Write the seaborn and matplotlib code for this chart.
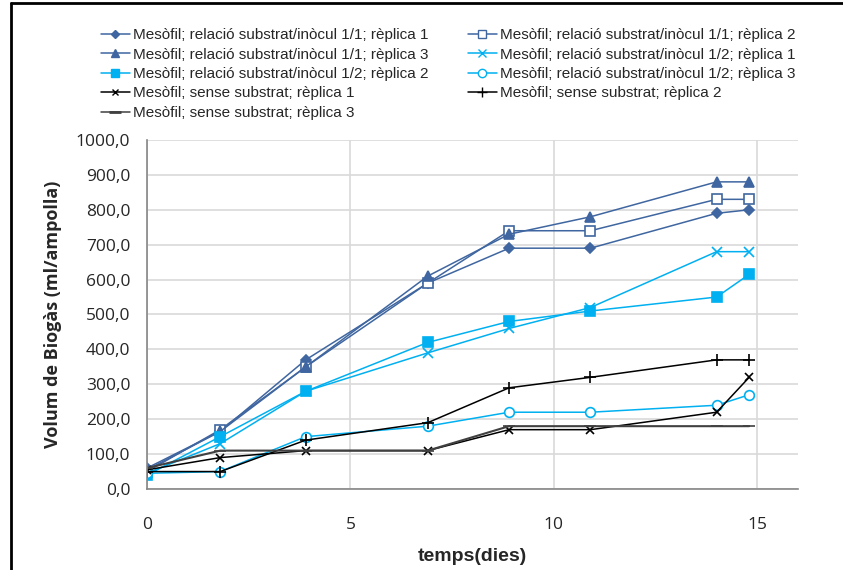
import matplotlib
matplotlib.use('Agg')
import matplotlib.pyplot as plt
import seaborn as sns
from matplotlib.ticker import FuncFormatter, MultipleLocator
from matplotlib.lines import Line2D

# dies de mesura
temps = [0, 1.8, 3.9, 6.9, 8.9, 10.9, 14.0, 14.8]

# volum de biogas (ml/ampolla)
r11_rep1 = [60, 165, 370, 590, 690, 690, 790, 800]
r11_rep2 = [50, 170, 350, 590, 740, 740, 830, 830]
r11_rep3 = [55, 165, 350, 610, 730, 780, 880, 880]
r12_rep1 = [45, 130, 280, 390, 460, 520, 680, 680]
r12_rep2 = [40, 150, 280, 420, 480, 510, 550, 615]
r12_rep3 = [45, 50, 150, 180, 220, 220, 240, 270]
sense_rep1 = [55, 90, 110, 110, 170, 170, 220, 320]
sense_rep2 = [50, 50, 140, 190, 290, 320, 370, 370]
sense_rep3 = [60, 110, 110, 110, 180, 180, 180, 180]

labels = [
    'Mesòfil; relació substrat/inòcul 1/1; rèplica 1',
    'Mesòfil; relació substrat/inòcul 1/1; rèplica 2',
    'Mesòfil; relació substrat/inòcul 1/1; rèplica 3',
    'Mesòfil; relació substrat/inòcul 1/2; rèplica 1',
    'Mesòfil; relació substrat/inòcul 1/2; rèplica 2',
    'Mesòfil; relació substrat/inòcul 1/2; rèplica 3',
    'Mesòfil; sense substrat; rèplica 1',
    'Mesòfil; sense substrat; rèplica 2',
    'Mesòfil; sense substrat; rèplica 3',
]
series = [r11_rep1, r11_rep2, r11_rep3, r12_rep1, r12_rep2, r12_rep3,
          sense_rep1, sense_rep2, sense_rep3]

dark_blue = '#3F66A0'
light_blue = '#00B0F0'
styles = [
    dict(color=dark_blue, marker='D', ms=5, mfc=dark_blue, lw=1.1),
    dict(color=dark_blue, marker='s', ms=7, mfc='white', lw=1.1),
    dict(color=dark_blue, marker='^', ms=7, mfc=dark_blue, lw=1.1),
    dict(color=light_blue, marker='x', ms=7, mfc=light_blue, lw=1.1),
    dict(color=light_blue, marker='s', ms=7, mfc=light_blue, lw=1.1),
    dict(color=light_blue, marker='o', ms=7, mfc='white', lw=1.1),
    dict(color='black', marker='x', ms=6, mfc='black', lw=1.1),
    dict(color='black', marker='+', ms=8, mfc='black', lw=1.1),
    dict(color='#404040', marker='_', ms=9, mfc='#404040', lw=1.5),
]

sns.set_style('white')
plt.rcParams['font.family'] = ['Liberation Sans', 'DejaVu Sans']

fig = plt.figure(figsize=(8.43, 5.70), dpi=100)
ax = fig.add_axes([0.1744, 0.1421, 0.7722, 0.6123])

for vals, lab, st in zip(series, labels, styles):
    sns.lineplot(x=temps, y=vals, ax=ax, color=st['color'], marker=st['marker'],
                 markersize=st['ms'], markerfacecolor=st['mfc'],
                 markeredgecolor=st['color'], markeredgewidth=1.2,
                 linewidth=st['lw'], label=lab, legend=False)

ax.set_xlim(0, 16)
ax.set_ylim(0, 1000)
ax.xaxis.set_major_locator(MultipleLocator(5))
ax.yaxis.set_major_locator(MultipleLocator(100))
ax.yaxis.set_major_formatter(FuncFormatter(lambda v, p: f'{v:.1f}'.replace('.', ',')))
ax.grid(True, color='#D9D9D9', linewidth=1.2)
ax.set_axisbelow(True)
for s in ['top', 'right']:
    ax.spines[s].set_visible(False)
for s in ['left', 'bottom']:
    ax.spines[s].set_color('#868686')
    ax.spines[s].set_linewidth(1.2)
ax.tick_params(axis='both', direction='out', length=6, color='#868686', width=1.2,
               labelsize=13, pad=6)
ax.tick_params(axis='x', pad=14)
for t in ax.get_yticklabels() + ax.get_xticklabels():
    t.set_family(['Open Sans', 'DejaVu Sans'])
    t.set_fontsize(12.5)

ax.set_xlabel('temps(dies)', fontsize=14, fontweight='bold', labelpad=11)
ax.set_ylabel('Volum de Biogàs (ml/ampolla)', fontsize=13, fontweight='bold',
              family=['Open Sans', 'DejaVu Sans'], labelpad=10)

# llegenda a dalt, dues columnes (ordre per files)
handles = [Line2D([], [], color=st['color'], marker=st['marker'], markersize=st['ms'] - 1,
                  markerfacecolor=st['mfc'], markeredgecolor=st['color'], linewidth=1.1,
                  markeredgewidth=2 if st['marker'] == '_' else 1.0)
           for st in styles]
order = [0, 2, 4, 6, 8, 1, 3, 5, 7]
fig.legend([handles[i] for i in order], [labels[i] for i in order], ncol=2,
           loc='upper left', bbox_to_anchor=(0.103, 0.975), frameon=False,
           fontsize=11, handlelength=1.9, handletextpad=0.2, columnspacing=2.6,
           labelspacing=0.36)

# marc del grafic
fig.add_artist(Line2D([0.013, 0.013], [0, 0.994], color='black', linewidth=2,
                      transform=fig.transFigure))
fig.add_artist(Line2D([0.013, 1.0], [0.994, 0.994], color='black', linewidth=2,
                      transform=fig.transFigure))

fig.savefig('out.png', dpi=100)
